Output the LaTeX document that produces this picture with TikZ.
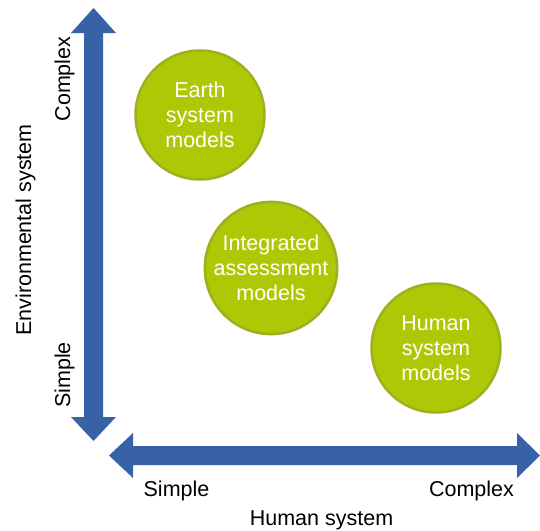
\documentclass[tikz,border=0pt]{standalone}
\usepackage{fontspec}
\setmainfont{Liberation Sans}
\definecolor{axisblue}{RGB}{56,98,166}
\definecolor{modelfill}{RGB}{174,200,6}
\definecolor{modeldraw}{RGB}{158,176,28}
\begin{document}
\begin{tikzpicture}[x=1pt,y=-1pt,
  model/.style={circle,fill=modelfill,draw=modeldraw,line width=2.5pt,
    minimum size=129pt,inner sep=0pt,text=white,align=center,
    font=\fontsize{21.5}{25}\selectfont},
  lbl/.style={inner sep=0pt,font=\fontsize{21.5}{25}\selectfont},
  axis/.style={fill=axisblue,draw=none}]
\useasboundingbox (0,0) rectangle (540,530);
% vertical axis
\coordinate (vtop) at (93.5,8);
\coordinate (vbot) at (93.5,441);
\fill[axis] (vtop) -- (116,33) -- (103,33) -- (103,417) -- (116,417) -- (vbot)
  -- (71,417) -- (84,417) -- (84,33) -- (71,33) -- cycle;
% horizontal axis
\coordinate (hleft) at (109,455.5);
\coordinate (hright) at (540,455.5);
\fill[axis] (hleft) -- (133,433) -- (133,446) -- (517,446) -- (517,433) -- (hright)
  -- (517,478) -- (517,465) -- (133,465) -- (133,478) -- cycle;
% models
\node[model] (esm) at (200,115) {Earth\\system\\models};
\node[model] (iam) at (271,268) {Integrated\\assessment\\models};
\node[model] (hsm) at (436,348) {Human\\system\\models};
% labels
\node[lbl,anchor=base,rotate=90] (vcomplex) at (70,79) {Complex};
\node[lbl,anchor=base,rotate=90] (vsimple) at (70,375) {Simple};
\node[lbl,anchor=base,rotate=90] (env) at (31,230) {Environmental system};
\node[lbl,anchor=base] (hsimple) at (176.5,496) {Simple};
\node[lbl,anchor=base] (hcomplex) at (471.5,496) {Complex};
\node[lbl,anchor=base] (human) at (321.5,525) {Human system};
\end{tikzpicture}
\end{document}
